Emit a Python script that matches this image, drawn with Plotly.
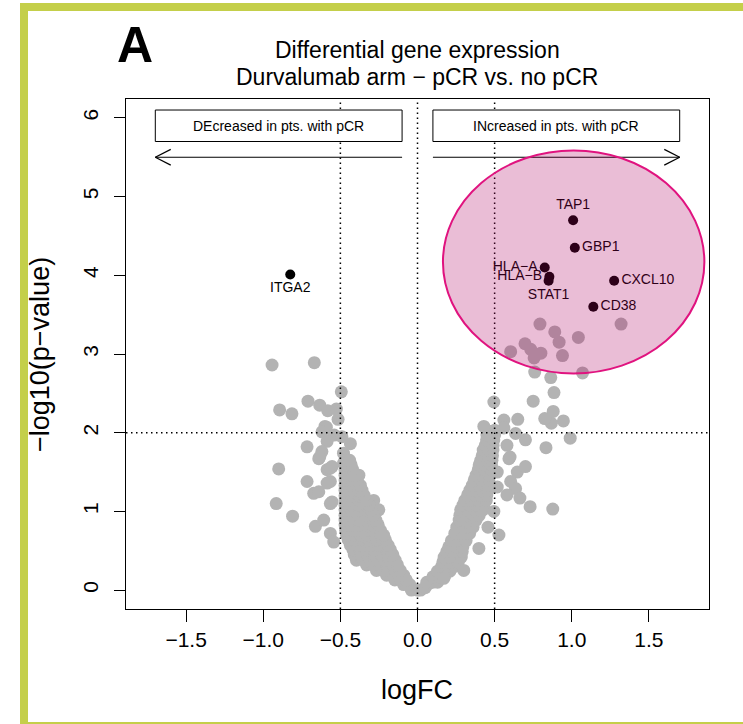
import plotly.graph_objects as go

# ---------------- data ----------------
# background genes: (logFC, -log10 p)
gray_points = [
    # scattered, left side
    (-0.943, 2.86), (-0.669, 2.89), (-0.494, 2.52), (-0.71, 2.40), (-0.634, 2.35),
    (-0.894, 2.29), (-0.814, 2.24), (-0.582, 2.28), (-0.526, 2.30), (-0.515, 2.17),
    (-0.591, 2.07), (-0.60, 2.08), (-0.619, 2.01), (-0.54, 1.97), (-0.49, 1.95),
    (-0.435, 1.86), (-0.586, 1.89), (-0.716, 1.82), (-0.62, 1.76), (-0.64, 1.67),
    (-0.634, 1.69), (-0.48, 1.74), (-0.48, 1.61), (-0.554, 1.57), (-0.586, 1.53),
    (-0.90, 1.54), (-0.565, 1.55), (-0.716, 1.38), (-0.565, 1.38), (-0.673, 1.23),
    (-0.64, 1.25), (-0.456, 1.40), (-0.38, 1.46), (-0.554, 1.12), (-0.565, 1.10),
    (-0.916, 1.10), (-0.81, 0.94), (-0.662, 0.81), (-0.608, 0.89), (-0.565, 0.72),
    (-0.543, 0.61), (-0.586, 1.36), (-0.284, 1.14), (-0.251, 1.02),
    # dense left arm
    (-0.04, 0.00), (0.00, 0.00), (-0.09, 0.07), (-0.05, 0.07),
    (-0.147, 0.13), (-0.11, 0.13), (-0.073, 0.13),
    (-0.20, 0.19), (-0.16, 0.19), (-0.12, 0.19), (-0.09, 0.19),
    (-0.266, 0.25), (-0.225, 0.25), (-0.185, 0.25), (-0.145, 0.25), (-0.112, 0.25),
    (-0.33, 0.32), (-0.29, 0.32), (-0.245, 0.32), (-0.20, 0.32), (-0.16, 0.32), (-0.13, 0.32),
    (-0.396, 0.38), (-0.35, 0.38), (-0.305, 0.38), (-0.26, 0.38), (-0.215, 0.38), (-0.175, 0.38), (-0.145, 0.38),
    (-0.41, 0.45), (-0.37, 0.45), (-0.325, 0.45), (-0.28, 0.45), (-0.235, 0.45), (-0.19, 0.45), (-0.16, 0.45),
    (-0.418, 0.51), (-0.375, 0.51), (-0.33, 0.51), (-0.285, 0.51), (-0.24, 0.51), (-0.20, 0.51), (-0.175, 0.51),
    (-0.435, 0.57), (-0.39, 0.57), (-0.345, 0.57), (-0.30, 0.57), (-0.255, 0.57), (-0.215, 0.57), (-0.19, 0.57),
    (-0.45, 0.64), (-0.405, 0.64), (-0.36, 0.64), (-0.315, 0.64), (-0.27, 0.64), (-0.23, 0.64), (-0.208, 0.64),
    (-0.46, 0.70), (-0.415, 0.70), (-0.37, 0.70), (-0.325, 0.70), (-0.28, 0.70), (-0.235, 0.70), (-0.22, 0.70),
    (-0.466, 0.76), (-0.42, 0.76), (-0.375, 0.76), (-0.33, 0.76), (-0.285, 0.76), (-0.24, 0.76),
    (-0.47, 0.83), (-0.425, 0.83), (-0.38, 0.83), (-0.335, 0.83), (-0.29, 0.83), (-0.255, 0.83),
    (-0.47, 0.89), (-0.425, 0.89), (-0.38, 0.89), (-0.335, 0.89), (-0.29, 0.89), (-0.27, 0.89),
    (-0.47, 0.95), (-0.425, 0.95), (-0.38, 0.95), (-0.335, 0.95), (-0.285, 0.95),
    (-0.47, 1.02), (-0.425, 1.02), (-0.38, 1.02), (-0.335, 1.02), (-0.30, 1.02),
    (-0.47, 1.08), (-0.425, 1.08), (-0.38, 1.08), (-0.335, 1.08), (-0.315, 1.08),
    (-0.47, 1.14), (-0.425, 1.14), (-0.38, 1.14), (-0.33, 1.14),
    (-0.47, 1.20), (-0.425, 1.20), (-0.38, 1.20), (-0.345, 1.20),
    (-0.47, 1.27), (-0.425, 1.27), (-0.385, 1.27), (-0.36, 1.27),
    (-0.47, 1.33), (-0.43, 1.33), (-0.39, 1.33), (-0.37, 1.33),
    (-0.47, 1.40), (-0.43, 1.40), (-0.39, 1.40),
    (-0.47, 1.46), (-0.425, 1.46), (-0.40, 1.46),
    (-0.47, 1.53), (-0.42, 1.53),
    (-0.47, 1.59), (-0.43, 1.59),
    (-0.47, 1.65), (-0.44, 1.65),
    # dense right arm
    (0.02, 0.00), (0.05, 0.03), (0.07, 0.08),
    (0.06, 0.10), (0.10, 0.10), (0.13, 0.10),
    (0.10, 0.17), (0.14, 0.17), (0.175, 0.17),
    (0.13, 0.24), (0.17, 0.24), (0.21, 0.24),
    (0.156, 0.30), (0.20, 0.30), (0.24, 0.30),
    (0.165, 0.36), (0.205, 0.36), (0.245, 0.36), (0.265, 0.36),
    (0.173, 0.42), (0.215, 0.42), (0.25, 0.42), (0.284, 0.42),
    (0.19, 0.49), (0.23, 0.49), (0.27, 0.49), (0.29, 0.49),
    (0.203, 0.55), (0.25, 0.55), (0.294, 0.55),
    (0.22, 0.63), (0.27, 0.63), (0.315, 0.63),
    (0.242, 0.72), (0.29, 0.72), (0.338, 0.72),
    (0.255, 0.80), (0.30, 0.80), (0.345, 0.80), (0.36, 0.80),
    (0.27, 0.89), (0.315, 0.89), (0.355, 0.89), (0.38, 0.89),
    (0.275, 0.95), (0.32, 0.95), (0.365, 0.95), (0.40, 0.95),
    (0.28, 1.02), (0.325, 1.02), (0.37, 1.02), (0.41, 1.02), (0.424, 1.02),
    (0.295, 1.08), (0.34, 1.08), (0.385, 1.08), (0.43, 1.08),
    (0.307, 1.14), (0.35, 1.14), (0.395, 1.14), (0.446, 1.14),
    (0.325, 1.21), (0.37, 1.21), (0.41, 1.21), (0.45, 1.21),
    (0.34, 1.27), (0.38, 1.27), (0.42, 1.27), (0.457, 1.27),
    (0.355, 1.33), (0.40, 1.33), (0.44, 1.33), (0.46, 1.33),
    (0.368, 1.40), (0.415, 1.40), (0.463, 1.40),
    (0.38, 1.46), (0.42, 1.46), (0.465, 1.46),
    (0.394, 1.53), (0.435, 1.53), (0.478, 1.53),
    (0.40, 1.59), (0.44, 1.59), (0.48, 1.59),
    (0.41, 1.65), (0.45, 1.65), (0.483, 1.65),
    (0.42, 1.71), (0.455, 1.71), (0.486, 1.71),
    (0.426, 1.78), (0.46, 1.78), (0.489, 1.78),
    (0.44, 1.84), (0.49, 1.84),
    (0.448, 1.91), (0.495, 1.91),
    (0.45, 1.97), (0.50, 1.97),
    (0.45, 2.03), (0.50, 2.03),
    # scattered, right side
    (0.495, 2.39), (0.56, 2.16), (0.65, 2.17), (0.43, 2.08), (0.56, 2.06),
    (0.636, 1.99), (0.70, 1.91), (0.58, 1.84), (0.593, 1.67), (0.60, 1.69),
    (0.517, 1.50), (0.647, 1.50), (0.70, 1.57), (0.604, 1.38), (0.517, 1.31),
    (0.636, 1.29), (0.58, 1.21), (0.664, 1.17), (0.73, 1.06), (0.495, 1.00),
    (0.457, 0.80), (0.528, 0.70), (0.398, 0.53), (0.30, 0.25), (0.17, 0.15),
    (0.877, 1.03), (0.833, 1.81), (0.99, 1.93), (0.946, 2.15), (0.868, 2.12),
    (0.825, 2.18), (0.88, 2.27), (0.75, 2.40), (0.885, 2.51), (0.76, 2.77),
    (0.864, 2.70), (1.07, 2.76),
    # inside the highlighted region
    (0.794, 3.38), (1.32, 3.38), (0.89, 3.28), (1.043, 3.21), (0.918, 3.15),
    (0.697, 3.13), (0.734, 3.06), (0.80, 3.01), (0.604, 3.03), (0.94, 2.98),
    (0.756, 2.95),
]

gene_names = ["TAP1", "GBP1", "HLA\u2212A", "HLA\u2212B", "STAT1", "CXCL10", "CD38", "ITGA2"]
gene_logfc = [1.009, 1.02, 0.825, 0.855, 0.85, 1.275, 1.14, -0.825]
gene_nlp = [4.70, 4.35, 4.10, 3.98, 3.93, 3.93, 3.60, 4.01]
gene_label_pos = ["top center", "middle right", "middle left", "middle left",
                  "bottom center", "middle right", "middle right", "bottom center"]

x_ticks = [-1.5, -1.0, -0.5, 0.0, 0.5, 1.0, 1.5]
x_tick_labels = ["\u22121.5", "\u22121.0", "\u22120.5", "0.0", "0.5", "1.0", "1.5"]
y_ticks = [0, 1, 2, 3, 4, 5, 6]
y_tick_labels = ["0", "1", "2", "3", "4", "5", "6"]

fc_cutoffs = [-0.5, 0.0, 0.5]
p_cutoff = 2.0

# ---------------- figure ----------------
FONT = "Liberation Sans, Arial, Helvetica, sans-serif"
gx = [p[0] for p in gray_points]
gy = [p[1] for p in gray_points]

fig = go.Figure()
fig.add_trace(go.Scatter(
    x=gx, y=gy, mode="markers",
    marker=dict(size=13, color="#b3b3b3", line=dict(width=0)),
    hoverinfo="skip", showlegend=False))
fig.add_trace(go.Scatter(
    x=gene_logfc, y=gene_nlp, mode="markers+text",
    text=gene_names, textposition=gene_label_pos,
    textfont=dict(family=FONT, size=14, color="black"),
    marker=dict(size=10, color="black", line=dict(width=0)),
    hoverinfo="skip", showlegend=False))

DOT = "1.5px,3.5px"
shapes = []
for v in fc_cutoffs:
    shapes.append(dict(type="line", xref="x", yref="paper", x0=v, x1=v, y0=0, y1=1,
                       line=dict(color="black", width=1.5, dash=DOT), layer="above"))
shapes.append(dict(type="line", xref="paper", yref="y", x0=0, x1=1, y0=p_cutoff, y1=p_cutoff,
                   line=dict(color="black", width=1.5, dash=DOT), layer="above"))
# direction boxes
for x0, x1 in [(-1.7, -0.1), (0.1, 1.7)]:
    shapes.append(dict(type="rect", xref="x", yref="y", x0=x0, x1=x1, y0=5.7, y1=6.1,
                       line=dict(color="black", width=1), fillcolor="white", layer="above"))
# arrows
hx, hy = 0.10, 0.10
for start, tip in [(-0.1, -1.7), (0.1, 1.7)]:
    sgn = 1 if tip < start else -1
    shapes.append(dict(type="line", xref="x", yref="y", x0=start, x1=tip, y0=5.5, y1=5.5,
                       line=dict(color="black", width=1.2), layer="above"))
    for d in (hy, -hy):
        shapes.append(dict(type="line", xref="x", yref="y", x0=tip, x1=tip + sgn * hx,
                           y0=5.5, y1=5.5 + d, line=dict(color="black", width=1.2), layer="above"))
# highlighted ellipse
shapes.append(dict(type="circle", xref="x", yref="y", x0=0.165, x1=1.86, y0=2.753, y1=5.587,
                   fillcolor="rgba(172,0,98,0.26)", line=dict(color="#e0137f", width=2),
                   layer="above"))
# green panel frame
shapes.append(dict(type="rect", xref="paper", yref="paper",
                   x0=(24 - 126) / 583, x1=(760 - 126) / 583,
                   y0=(609 - 726) / 510, y1=(609 - 7) / 510,
                   line=dict(color="#c4cf4a", width=8), fillcolor="rgba(0,0,0,0)", layer="above"))


def ann(text, px, py, size, ref="paper", angle=0):
    if ref == "paper":
        x, y = (px - 126) / 583, (609 - py) / 510
    else:
        x, y = px, py
    return dict(text=text, x=x, y=y, xref=ref if ref == "paper" else "x",
                yref=ref if ref == "paper" else "y", showarrow=False,
                xanchor="center", yanchor="middle", textangle=angle,
                font=dict(family=FONT, size=size, color="black"))


annotations = [
    ann("DEcreased in pts. with pCR", -0.9, 5.9, 14, ref="data"),
    ann("INcreased in pts. with pCR", 0.9, 5.9, 14, ref="data"),
    ann("Differential gene expression", 417, 50, 23),
    ann("Durvalumab arm \u2212 pCR vs. no pCR", 417, 77, 23),
    ann("<b>A</b>", 135, 45, 50),
    ann("logFC", 417, 690, 27),
    ann("\u2212log10(p\u2212value)", 40, 355, 27, angle=-90),
]

fig.update_layout(
    width=743, height=724, autosize=False,
    margin=dict(l=126, r=34, t=99, b=115),
    paper_bgcolor="white", plot_bgcolor="white",
    shapes=shapes, annotations=annotations,
    font=dict(family=FONT, color="black"),
    xaxis=dict(range=[-1.89, 1.89], tickvals=x_ticks, ticktext=x_tick_labels,
               ticks="outside", ticklen=12, tickwidth=1, tickcolor="black",
               showline=True, mirror=True, linecolor="black", linewidth=1,
               showgrid=False, zeroline=False, tickfont=dict(family=FONT, size=21, color="black")),
    yaxis=dict(range=[-0.24, 6.24], tickvals=y_ticks, ticktext=y_tick_labels,
               ticks="outside", ticklen=11, tickwidth=1, tickcolor="black", tickangle=-90,
               ticklabelstandoff=8,
               showline=True, mirror=True, linecolor="black", linewidth=1,
               showgrid=False, zeroline=False, tickfont=dict(family=FONT, size=21, color="black")),
)

fig.write_html("out.html",
               config={"displayModeBar": False, "staticPlot": True},
               post_script="document.body.style.margin='0';document.body.style.overflow='hidden';")
